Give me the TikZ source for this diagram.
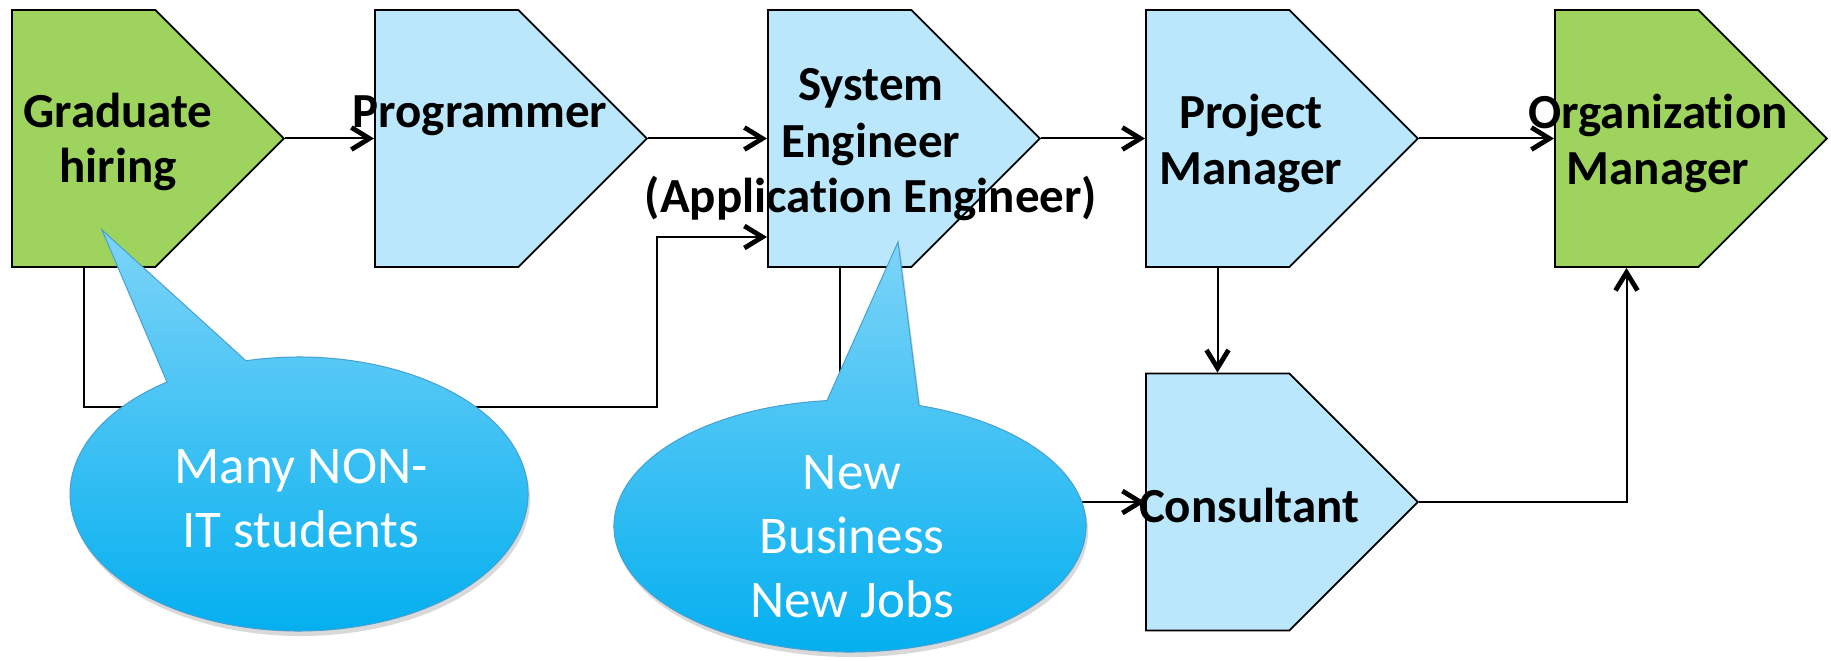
\documentclass[tikz,border=0pt]{standalone}
\usepackage{fontspec}
\setmainfont[Ligatures={NoCommon,NoDiscretionary,NoRare}]{Carlito}
\usetikzlibrary{arrows.meta,shapes.symbols,shadows,calc}

\definecolor{stepgreen}{RGB}{158,211,94}
\definecolor{stepblue}{RGB}{187,231,253}
\definecolor{bubtop}{RGB}{125,212,248}
\definecolor{bubbot}{RGB}{0,174,239}
\definecolor{bubedge}{RGB}{70,160,210}

\tikzset{
  career/.style={signal, signal to=east, signal pointer angle=90, draw=black, line width=0.9pt,
    inner sep=0pt, minimum width=136pt, minimum height=128.5pt, anchor=west},
  title/.style={font=\bfseries\fontsize{24.5}{28}\selectfont, align=center, anchor=base, inner sep=0pt},
  flow/.style={line width=1pt, -{Straight Barb[length=9pt,width=11pt,line width=2.4pt]}},
  bubble/.style={top color=bubtop, bottom color=bubbot, draw=bubedge, line width=0.5pt,
    drop shadow={opacity=0.3,shadow xshift=1pt,shadow yshift=-2.5pt}},
  note/.style={text=white, font=\fontsize{26.5}{32}\selectfont, align=center, anchor=base, inner sep=0pt}
}

\begin{document}
\begin{tikzpicture}[x=0.5pt,y=0.5pt]
\useasboundingbox (0,0) rectangle (1831,660);

\node[career, fill=stepgreen] (grad) at (11,521.5) {};
\node[career, fill=stepblue] (prog) at (374,521.5) {};
\node[career, fill=stepblue] (syse) at (767,521.5) {};
\node[career, fill=stepblue] (pm) at (1145,521.5) {};
\node[career, fill=stepgreen] (org) at (1554,521.5) {};
\node[career, fill=stepblue] (cons) at (1145,158) {};

\draw[flow] (grad.east) -- (prog.west);
\draw[flow] (prog.east) -- (syse.west);
\draw[flow] (syse.east) -- (pm.west);
\draw[flow] (pm.east) -- (org.west);
\draw[flow] ($(pm.west |- pm.south)+(72.5,0)$) -- ($(cons.west |- cons.north)+(72.5,0)$);
\draw[flow] (cons.east) -| ($(org.west |- org.south)+(72.5,0)$);
\draw[flow] ($(grad.west |- grad.south)+(72.5,0)$) |- (657,253) |- ($(syse.west)+(0,-98.5)$);
\draw[flow] ($(syse.west |- syse.south)+(72.5,0)$) |- (cons.west);

\node[title] (gradtxt) at (118,477) {Graduate\\hiring};
\node[title] (progtxt) at (480,532) {Programmer};
\node[title] (sysetxt) at (871,447) {System\\Engineer\\(Application Engineer)};
\node[title] (pmtxt) at (1251,475) {Project\\Manager};
\node[title] (orgtxt) at (1658,475) {Organization\\Manager};
\node[title] (constxt) at (1249,138) {Consultant};

\path[bubble] (299,166) ++(103.4:114.5pt and 68.5pt)
  arc[start angle=103.4, end angle=-234.8, x radius=114.5pt, y radius=68.5pt] -- (102,430) -- cycle;
\node[note] (nonit) at (301,113) {Many NON-\\IT students};

\path[bubble] (850,134) ++(73:118pt and 63pt)
  arc[start angle=73, end angle=-264.4, x radius=118pt, y radius=63pt] -- (898,418) -- cycle;
\node[note] (newjobs) at (852,43) {New\\Business\\New Jobs};
\end{tikzpicture}
\end{document}
